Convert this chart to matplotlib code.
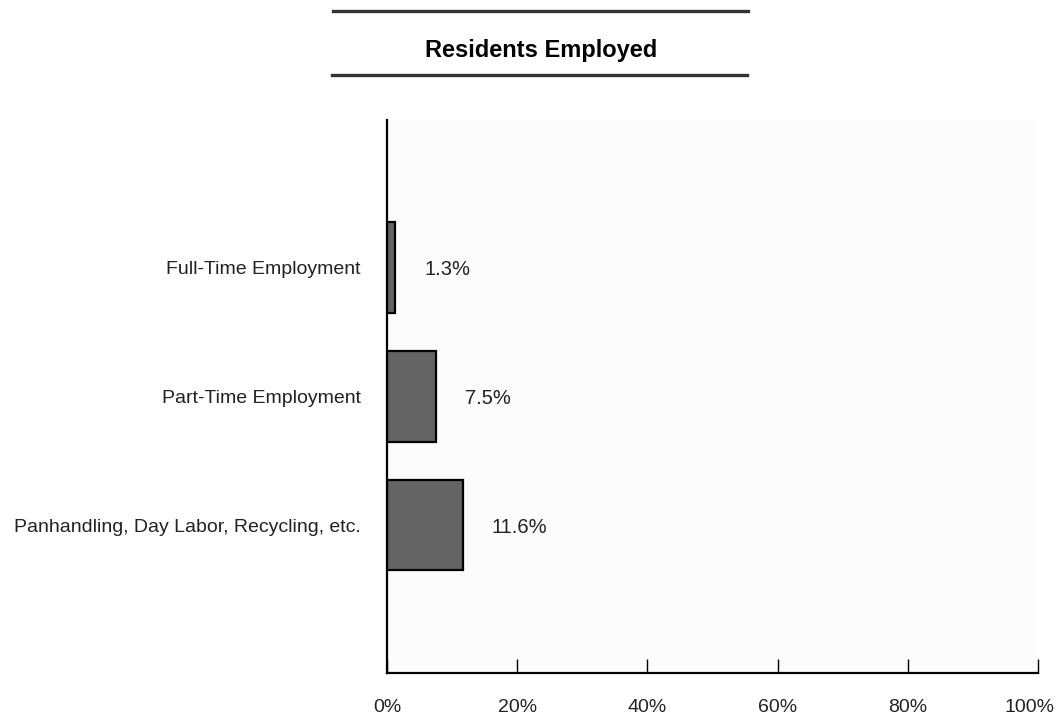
import matplotlib
matplotlib.use("Agg")
import matplotlib.pyplot as plt
from matplotlib.lines import Line2D
from matplotlib.transforms import ScaledTranslation

# data
categories = ["Full-Time Employment", "Part-Time Employment",
              "Panhandling, Day Labor, Recycling, etc."]
values = [1.3, 7.5, 11.6]
value_labels = ["1.3%", "7.5%", "11.6%"]
xticks = [0, 20, 40, 60, 80, 100]
xtick_labels = ["0%", "20%", "40%", "60%", "80%", "100%"]

plt.rcParams['font.family'] = ['Liberation Sans', 'DejaVu Sans']

fig = plt.figure(figsize=(10.58, 7.18), dpi=100)
ax = fig.add_axes([0.3658, 0.0627, 0.6152, 0.7703])
ax.set_facecolor('#fcfcfc')

pos = list(range(len(categories)))
ax.barh(pos, values, height=0.705, color='#646464', edgecolor='black', linewidth=1.6)

for p, v, lab in zip(pos, values, value_labels):
    ax.annotate(lab, (v, p), xytext=(21, 0), textcoords='offset points',
                ha='left', va='center_baseline', fontsize=14.5, color='#222222')

ax.set_xlim(0, 100)
ax.set_ylim(2 + 1.15, -1.15)
ax.set_xticks(xticks)
ax.set_xticklabels(xtick_labels, fontsize=14, color='#222222')
ax.set_yticks(pos)
ax.set_yticklabels(categories, fontsize=14, va='center_baseline', color='#222222')
ax.tick_params(axis='x', direction='in', length=10, width=1, pad=19)
ax.tick_params(axis='y', length=0, pad=19)

# last x label sits slightly left so it stays inside the figure
last = ax.get_xticklabels()[-1]
last.set_transform(last.get_transform() + ScaledTranslation(-8 / 100, 0, fig.dpi_scale_trans))

for s in ['top', 'right']:
    ax.spines[s].set_visible(False)
for s in ['left', 'bottom']:
    ax.spines[s].set_linewidth(1.6)

# title with rules above and below
fig.add_artist(Line2D([0.315, 0.707], [0.9847, 0.9847], color='#333333', lw=2.4))
fig.add_artist(Line2D([0.314, 0.706], [0.8955, 0.8955], color='#333333', lw=2.4))
fig.text(0.511, 0.930, "Residents Employed", ha='center', va='center',
         fontsize=17, fontweight='bold')

fig.savefig("out.png", dpi=100)
